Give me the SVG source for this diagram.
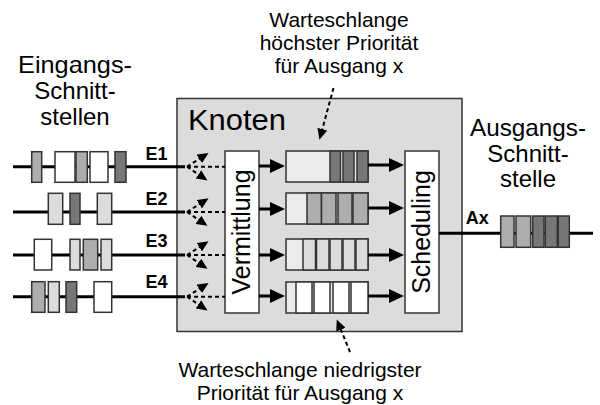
<svg xmlns="http://www.w3.org/2000/svg" width="600" height="405" viewBox="0 0 600 405">
<defs>
<style>
text{font-family:"Liberation Sans",Arial,sans-serif;fill:#000}
.lbl{font-size:21px;text-anchor:middle}
.big{font-size:24px;text-anchor:middle}
.e{font-size:18px;font-weight:bold}
.pk{stroke:#333;stroke-width:1.5}
.w{fill:#fff}.l{fill:#dcdcdc}.m{fill:#adadad}.d{fill:#777}.q{fill:#ebebeb}
.ln{stroke:#000;stroke-width:3;fill:none}
.ds{stroke:#000;stroke-width:2;fill:none;stroke-dasharray:4 3}
</style>
<marker id="ab" markerUnits="userSpaceOnUse" markerWidth="16" markerHeight="14" refX="8" refY="7" orient="auto"><path d="M0,0L15,7L0,14z" fill="#000"/></marker>
<marker id="as" markerUnits="userSpaceOnUse" markerWidth="12" markerHeight="10" refX="5" refY="5" orient="auto"><path d="M0,0L11,5L0,10z" fill="#000"/></marker>
<g id="fan"><path class="ds" d="M187,0H225"/><path class="ds" d="M187,0L203.5,-10.5" marker-end="url(#as)"/><path class="ds" d="M187,0L202.5,10.5" marker-end="url(#as)"/></g>
</defs>
<rect width="600" height="405" fill="#fff"/>
<g id="knoten"><rect x="177" y="98.5" width="285" height="233" fill="#dcdcdc" stroke="#333" stroke-width="1.5"/><text x="188" y="130" style="font-size:30px" textLength="98" lengthAdjust="spacingAndGlyphs">Knoten</text></g>
<g id="labels">
<text class="big" x="75" y="73" textLength="114" lengthAdjust="spacingAndGlyphs">Eingangs-</text>
<text class="big" x="75" y="99">Schnitt-</text>
<text class="big" x="75" y="125">stellen</text>
<text class="big" x="528" y="136" textLength="116" lengthAdjust="spacingAndGlyphs">Ausgangs-</text>
<text class="big" x="528" y="162">Schnitt-</text>
<text class="big" x="528" y="187">stelle</text>
<text class="lbl" x="339" y="27">Warteschlange</text>
<text class="lbl" x="339" y="50">höchster Priorität</text>
<text class="lbl" x="339" y="73">für Ausgang x</text>
<text class="lbl" x="300" y="377">Warteschlange niedrigster</text>
<text class="lbl" x="300" y="400">Priorität für Ausgang x</text>
</g>
<g id="vermittlung"><rect x="225" y="151" width="34" height="162" fill="#fff" stroke="#333" stroke-width="1.5"/><text transform="translate(250,232) rotate(-90)" style="font-size:25px;text-anchor:middle">Vermittlung</text></g>
<g id="scheduling"><rect x="405" y="151" width="34" height="162" fill="#fff" stroke="#333" stroke-width="1.5"/><text transform="translate(430,232) rotate(-90)" style="font-size:25px;text-anchor:middle">Scheduling</text></g>
<g id="queue1" class="pk"><rect class="q" x="286" y="151" width="82" height="31"/><rect class="d" x="330" y="151" width="10.5" height="31"/><rect class="d" x="343" y="151" width="11" height="31"/><rect class="d" x="357" y="151" width="11" height="31"/></g>
<g id="queue2" class="pk"><rect class="q" x="286" y="193" width="82" height="31"/><rect class="m" x="307" y="193" width="14.5" height="31"/><rect class="m" x="321.5" y="193" width="14.5" height="31"/><rect class="m" x="338" y="193" width="14" height="31"/><rect class="m" x="353" y="193" width="15" height="31"/></g>
<g id="queue3" class="pk"><rect class="q" x="286" y="239" width="82" height="31"/><rect class="l" x="303" y="239" width="12.5" height="31"/><rect class="l" x="316.5" y="239" width="12.5" height="31"/><rect class="l" x="330" y="239" width="12" height="31"/><rect class="l" x="343" y="239" width="12" height="31"/><rect class="l" x="356" y="239" width="12" height="31"/></g>
<g id="queue4" class="pk"><rect class="q" x="286" y="282" width="82" height="31"/><rect class="w" x="296" y="282" width="16" height="31"/><rect class="w" x="314" y="282" width="16" height="31"/><rect class="w" x="333" y="282" width="16" height="31"/><rect class="w" x="351" y="282" width="17" height="31"/></g>
<g id="connectors">
<path class="ln" d="M13,166.7H185M13,212H185M13,255H185M13,296.7H185"/>
<use href="#fan" y="166.7"/><use href="#fan" y="212"/><use href="#fan" y="255"/><use href="#fan" y="296.7"/>
<path class="ln" d="M259,166H278" marker-end="url(#ab)"/>
<path class="ln" d="M259,209H278" marker-end="url(#ab)"/>
<path class="ln" d="M259,255H278" marker-end="url(#ab)"/>
<path class="ln" d="M259,296H278" marker-end="url(#ab)"/>
<path class="ln" d="M368,165H397" marker-end="url(#ab)"/>
<path class="ln" d="M368,208H397" marker-end="url(#ab)"/>
<path class="ln" d="M368,255H397" marker-end="url(#ab)"/>
<path class="ln" d="M368,296H397" marker-end="url(#ab)"/>
<path class="ln" d="M439,233.3H593"/>
<path class="ds" d="M333.5,88L321,134" marker-end="url(#as)"/>
<path class="ds" d="M350,352L339,325" marker-end="url(#as)"/>
</g>
<g id="packets" class="pk">
<rect class="m" x="31.7" y="151.7" width="10" height="30.6"/><rect class="w" x="55" y="151.7" width="20" height="30.6"/><rect class="m" x="76" y="151.7" width="11.3" height="30.6"/><rect class="w" x="90" y="151.7" width="18" height="30.6"/><rect class="d" x="115" y="151.7" width="11" height="30.6"/>
<rect class="l" x="48.3" y="193.3" width="14.4" height="31"/><rect class="d" x="70" y="193.3" width="10" height="31"/><rect class="l" x="97.3" y="193.3" width="14.4" height="31"/>
<rect class="w" x="34.3" y="239.3" width="17.4" height="30.7"/><rect class="l" x="70" y="239.3" width="10" height="30.7"/><rect class="m" x="83.3" y="239.3" width="14.4" height="30.7"/><rect class="l" x="101" y="239.3" width="10.7" height="30.7"/>
<rect class="m" x="31.7" y="281.7" width="13.3" height="30.6"/><rect class="l" x="48.3" y="281.7" width="11" height="30.6"/><rect class="d" x="66" y="281.7" width="10.7" height="30.6"/><rect class="w" x="94" y="281.7" width="17.7" height="30.6"/>
<rect class="m" x="500.7" y="216" width="13.3" height="31.3"/><rect class="m" x="516" y="216" width="14.7" height="31.3"/><rect class="d" x="532.7" y="216" width="11.3" height="31.3"/><rect class="d" x="545.3" y="216" width="12" height="31.3"/><rect class="d" x="558.3" y="216" width="11" height="31.3"/>
</g>
<g id="ports">
<text class="e" x="145.5" y="160">E1</text>
<text class="e" x="145.5" y="205">E2</text>
<text class="e" x="145.5" y="246.7">E3</text>
<text class="e" x="145.5" y="288.3">E4</text>
<text class="e" x="465.7" y="224">Ax</text>
</g>
</svg>
